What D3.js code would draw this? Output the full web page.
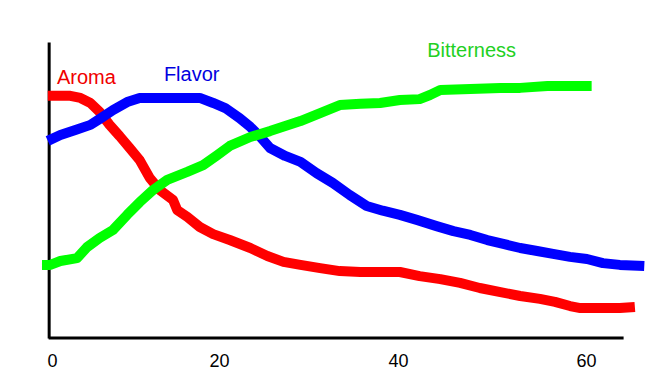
<!DOCTYPE html>
<html>
<head>
<meta charset="utf-8">
<script src="https://cdn.jsdelivr.net/npm/d3@7"></script>
<style>
    body { margin: 0; background: #fff; }
    text { font-family: "Liberation Sans", Arial, sans-serif; }
</style>
</head>
<body>
<div id="chart"></div>
<script>
"use strict";

// time (x) and intensity (0-100)
const aroma = [
    [-0.5, 81.8], [2.2, 81.8], [3.4, 81.1], [4.6, 79.4], [5.7, 76.4], [6.9, 72.0],
    [8.1, 68.2], [9.3, 64.2], [10.5, 60.1], [11.7, 54.1], [12.9, 50.0], [14.5, 46.6],
    [15.0, 43.2], [16.2, 40.9], [17.7, 37.5], [19.3, 35.1], [21.2, 33.1], [23.5, 30.4],
    [25.4, 27.7], [27.2, 25.7], [29.1, 24.7], [31.3, 23.6], [33.5, 22.6], [35.8, 22.3],
    [38.0, 22.3], [40.2, 22.3], [42.3, 20.9], [44.5, 19.9], [46.6, 18.6], [48.7, 16.9],
    [50.9, 15.5], [53.0, 14.2], [55.1, 13.2], [56.7, 12.2], [58.3, 10.8], [59.4, 10.1],
    [61.5, 10.1], [63.6, 10.1], [65.2, 10.5]
];

const flavor = [
    [-0.5, 66.6], [1.0, 68.6], [2.8, 70.3], [4.6, 72.0], [5.7, 74.0], [7.3, 77.0],
    [9.0, 79.7], [10.5, 81.1], [12.9, 81.1], [15.3, 81.1], [17.7, 81.1], [19.3, 79.4],
    [20.7, 77.7], [22.3, 74.3], [23.5, 71.3], [24.6, 68.0], [25.7, 64.2], [27.4, 61.5],
    [29.1, 59.5], [30.9, 55.7], [32.7, 52.4], [34.6, 48.3], [36.5, 44.6], [38.3, 43.0],
    [40.2, 41.6], [42.0, 39.9], [44.1, 37.8], [45.9, 36.1], [47.7, 34.8], [49.5, 33.1],
    [51.2, 31.8], [53.0, 30.4], [54.8, 29.4], [56.5, 28.4], [58.3, 27.4], [60.1, 26.7],
    [61.8, 25.3], [63.6, 24.7], [66.2, 24.3]
];

const bitterness = [
    [-1.2, 24.7], [-0.2, 24.7], [1.0, 26.0], [3.0, 27.0], [4.2, 30.7], [5.7, 33.8],
    [7.3, 36.5], [9.0, 41.6], [10.5, 45.9], [12.1, 50.0], [13.8, 53.4], [16.2, 56.1],
    [18.1, 58.4], [19.8, 61.8], [21.2, 64.9], [23.5, 67.9], [25.7, 69.9], [27.4, 71.6],
    [29.1, 73.3], [31.3, 76.0], [33.5, 78.7], [35.8, 79.1], [38.0, 79.4], [40.2, 80.4],
    [42.3, 80.7], [43.4, 82.1], [44.5, 83.8], [47.7, 84.1], [50.9, 84.5], [53.0, 84.5],
    [55.9, 85.1], [58.3, 85.1], [60.6, 85.1]
];

const xTicks = [0, 20, 40, 60];
const xExtent = [-0.4, 64];
const yExtent = [0, 100];

const series = [
    { name: "Aroma", data: aroma, color: "#ff0000", text: "#f00000", label: [0.6, 85.8] },
    { name: "Flavor", data: flavor, color: "#0000ff", text: "#0000e0", label: [13.4, 86.8] },
    { name: "Bitterness", data: bitterness, color: "#00ff00", text: "#22d022", label: [43.1, 94.9] }
];

const drawChart = () => {
    var width = 647,
        height = 387;

    var svg = d3.select("#chart")
        .append("svg")
        .attr("width", width)
        .attr("height", height);

    svg.append("rect")
        .attr("width", width)
        .attr("height", height)
        .attr("fill", "#fff");

    // hand placed ticks are not evenly spaced, so a piecewise scale
    var x = d3.scaleLinear()
        .domain(xTicks)
        .range([52, 219, 398, 586]);

    var y = d3.scaleLinear()
        .domain(yExtent)
        .range([338, 42]);

    var xAxis = svg.append("g")
        .attr("transform", "translate(0," + y(0) + ")")
        .call(d3.axisBottom(x).tickValues(xTicks).tickSize(0).tickFormat(d3.format("d")));

    xAxis.select(".domain").remove();
    xAxis.selectAll("text")
        .attr("y", 16)
        .attr("dy", "0.71em")
        .attr("fill", "#000")
        .style("font-size", "18px");

    svg.append("line")
        .attr("x1", x(xExtent[0]))
        .attr("x2", x(xExtent[1]))
        .attr("y1", y(0))
        .attr("y2", y(0))
        .attr("stroke", "#000")
        .attr("stroke-width", 3);

    var yAxis = svg.append("g")
        .attr("transform", "translate(" + x(xExtent[0]) + ",0)")
        .call(d3.axisLeft(y).ticks(0).tickSize(0));

    yAxis.select(".domain")
        .attr("stroke", "#000")
        .attr("stroke-width", 3);

    var line = d3.line()
        .x(d => x(d[0]))
        .y(d => y(d[1]));

    svg.selectAll("path.series")
        .data(series)
        .enter()
        .append("path")
        .attr("class", "series")
        .attr("d", d => line(d.data))
        .attr("fill", "none")
        .attr("stroke", d => d.color)
        .attr("stroke-width", 10)
        .attr("stroke-linejoin", "round")
        .attr("stroke-linecap", "butt");

    svg.selectAll("text.label")
        .data(series)
        .enter()
        .append("text")
        .attr("class", "label")
        .attr("x", d => x(d.label[0]))
        .attr("y", d => y(d.label[1]))
        .attr("fill", d => d.text)
        .style("font-size", "20px")
        .text(d => d.name);
}

drawChart();
</script>
</body>
</html>
